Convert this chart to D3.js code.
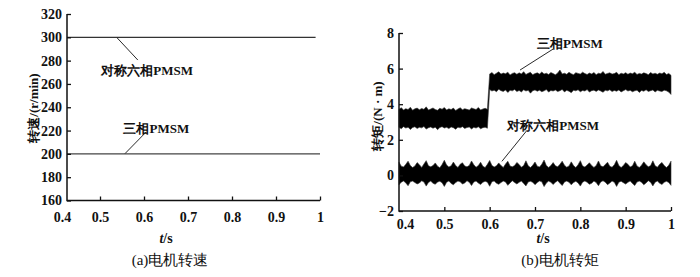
<!DOCTYPE html>
<html>
<head>
<meta charset="UTF-8">
<title>电机转速与转矩</title>
<script src="https://cdnjs.cloudflare.com/ajax/libs/d3/7.8.5/d3.min.js"></script>
<style>
body { margin: 0; background: #fff; }
</style>
</head>
<body>
<svg id="chart" width="700" height="277"></svg>
<script>
// ---- (a) speed ----
var speedTicks = [160, 180, 200, 220, 240, 260, 280, 300, 320];
var timeTicks = [0.4, 0.5, 0.6, 0.7, 0.8, 0.9, 1];
var sixSpeedT = [0.425, 0.99];
var sixSpeed = [300, 300];
var threeSpeedT = [0.425, 1.0];
var threeSpeed = [200, 200];

// ---- (b) torque: envelope of the noisy band, sampled every 5 ms from 0.4 s ----
var torqueTicks = [-2, 0, 2, 4, 6, 8];
var torqueStart = 0.4, torqueStep = 0.005;
var threeUpper = [
  3.72,3.80,3.68,3.75,3.70,3.83,3.66,3.74,3.78,3.69,
  3.76,3.71,3.85,3.67,3.73,3.79,3.70,3.66,3.77,3.72,
  3.81,3.68,3.74,3.70,3.78,3.65,3.73,3.80,3.69,3.75,
  3.71,3.67,3.79,3.74,3.70,3.82,3.68,3.73,3.77,3.71,
  5.70,5.78,5.66,5.74,5.82,5.69,5.75,5.71,5.80,5.64,
  5.73,5.77,5.68,5.76,5.70,5.83,5.67,5.74,5.79,5.66,
  5.72,5.76,5.69,5.81,5.70,5.74,5.67,5.78,5.72,5.65,
  5.75,5.92,5.70,5.74,5.68,5.79,5.71,5.66,5.77,5.73,
  5.69,5.80,5.72,5.67,5.75,5.70,5.78,5.66,5.74,5.71,
  5.84,5.68,5.73,5.76,5.69,5.72,5.79,5.66,5.74,5.70,
  5.77,5.68,5.75,5.71,5.80,5.67,5.73,5.69,5.76,5.72,
  5.66,5.78,5.70,5.74,5.68,5.75,5.71,5.79,5.67,5.73,
  5.62
];
var threeLower = [
  2.70,2.62,2.74,2.66,2.71,2.58,2.69,2.73,2.64,2.70,
  2.67,2.75,2.60,2.68,2.72,2.65,2.71,2.57,2.69,2.74,
  2.66,2.70,2.63,2.72,2.68,2.59,2.71,2.67,2.74,2.64,
  2.69,2.72,2.61,2.70,2.66,2.73,2.62,2.68,2.71,2.65,
  4.82,4.74,4.79,4.70,4.84,4.76,4.72,4.80,4.66,4.78,
  4.75,4.83,4.71,4.77,4.69,4.81,4.74,4.78,4.62,4.76,
  4.80,4.73,4.79,4.70,4.75,4.82,4.68,4.77,4.74,4.80,
  4.71,4.76,4.83,4.69,4.78,4.73,4.65,4.79,4.75,4.81,
  4.70,4.77,4.74,4.82,4.68,4.76,4.79,4.72,4.80,4.74,
  4.67,4.78,4.75,4.81,4.71,4.77,4.73,4.80,4.69,4.76,
  4.82,4.74,4.78,4.70,4.75,4.79,4.66,4.77,4.73,4.81,
  4.72,4.76,4.80,4.69,4.78,4.74,4.71,4.79,4.75,4.68,
  4.55
];
var sixUpper = [
  0.74,0.52,0.47,0.62,0.80,0.55,0.44,0.53,0.72,0.60,
  0.45,0.64,0.83,0.54,0.48,0.55,0.70,0.52,0.43,0.61,
  0.85,0.58,0.47,0.54,0.75,0.55,0.45,0.63,0.71,0.53,
  0.48,0.56,0.81,0.60,0.46,0.55,0.74,0.52,0.44,0.62,
  0.84,0.56,0.47,0.54,0.70,0.55,0.45,0.64,0.80,0.53,
  0.48,0.56,0.73,0.61,0.46,0.55,0.82,0.54,0.44,0.57,
  0.75,0.52,0.47,0.63,0.86,0.56,0.45,0.55,0.72,0.54,
  0.48,0.62,0.80,0.57,0.46,0.53,0.76,0.55,0.44,0.60,
  0.83,0.53,0.47,0.58,0.71,0.56,0.45,0.55,0.81,0.54,
  0.48,0.61,0.74,0.52,0.46,0.60,0.85,0.55,0.44,0.56,
  0.72,0.62,0.47,0.54,0.80,0.53,0.45,0.57,0.76,0.60,
  0.48,0.55,0.82,0.54,0.46,0.62,0.73,0.55,0.44,0.57,
  0.80
];
var sixLower = [
  -0.52,-0.38,-0.31,-0.42,-0.58,-0.36,-0.32,-0.40,-0.48,-0.43,
  -0.30,-0.37,-0.60,-0.40,-0.32,-0.44,-0.50,-0.37,-0.33,-0.41,
  -0.62,-0.39,-0.31,-0.45,-0.53,-0.40,-0.32,-0.36,-0.49,-0.42,
  -0.30,-0.39,-0.57,-0.37,-0.32,-0.43,-0.51,-0.39,-0.33,-0.38,
  -0.61,-0.36,-0.31,-0.44,-0.50,-0.40,-0.32,-0.37,-0.56,-0.42,
  -0.30,-0.40,-0.48,-0.39,-0.32,-0.45,-0.59,-0.37,-0.33,-0.39,
  -0.52,-0.40,-0.31,-0.36,-0.63,-0.43,-0.32,-0.39,-0.51,-0.39,
  -0.30,-0.44,-0.57,-0.37,-0.32,-0.38,-0.53,-0.40,-0.33,-0.42,
  -0.60,-0.38,-0.31,-0.39,-0.50,-0.44,-0.32,-0.40,-0.58,-0.37,
  -0.30,-0.38,-0.52,-0.43,-0.32,-0.39,-0.62,-0.38,-0.33,-0.41,
  -0.49,-0.39,-0.31,-0.45,-0.57,-0.37,-0.32,-0.38,-0.53,-0.42,
  -0.30,-0.39,-0.59,-0.38,-0.32,-0.44,-0.51,-0.39,-0.33,-0.40,
  -0.56
];

// annotation labels and pointer lines, in data units
var speedNotes = [
  {text: "对称六相PMSM", x: 0.607, y: 272, from: [0.539, 299.5], to: [0.586, 280.5]},
  {text: "三相PMSM", x: 0.628, y: 222, from: [0.605, 218.8], to: [0.557, 200.3]}
];
var torqueNotes = [
  {text: "三相PMSM", x: 0.777, y: 7.44, from: [0.740, 7.1], to: [0.667, 5.92]},
  {text: "对称六相PMSM", x: 0.740, y: 2.78, from: [0.682, 2.52], to: [0.627, 0.79]}
];

var svg = d3.select("#chart");
var fmtT = function(d) { return d === 1 ? "1" : d3.format(".1f")(d); };

function notes(g, list, x, y) {
  g.selectAll("line.ptr").data(list).enter().append("line")
    .attr("class", "ptr")
    .attr("x1", function(d) { return x(d.from[0]); }).attr("y1", function(d) { return y(d.from[1]); })
    .attr("x2", function(d) { return x(d.to[0]); }).attr("y2", function(d) { return y(d.to[1]); })
    .attr("stroke", "#111").attr("stroke-width", 0.9);
  g.selectAll("text.note").data(list).enter().append("text")
    .attr("class", "note")
    .attr("x", function(d) { return x(d.x); }).attr("y", function(d) { return y(d.y); })
    .attr("text-anchor", "middle").attr("dy", "0.35em")
    .style("font-size", "13px")
    .text(function(d) { return d.text; });
}

function styleAxis(g) {
  g.attr("font-family", null).attr("font-size", null);
  g.selectAll(".tick line").attr("stroke", "#111").attr("stroke-width", 1.3);
  g.selectAll(".tick text").style("font-size", "14px").attr("fill", "#111");
  g.select(".domain").remove();
}

// ---------- panel (a) ----------
var xL = d3.scaleLinear().domain([0.4, 1]).range([56, 320]);
var yL = d3.scaleLinear().domain([160, 320]).range([200.5, 14]);
var gA = svg.append("g");
var x0L = xL(0.425);

var line = d3.line().x(function(d) { return xL(d[0]); }).y(function(d) { return yL(d[1]); });
gA.append("path").datum(d3.zip(sixSpeedT, sixSpeed)).attr("d", line)
  .attr("fill", "none").attr("stroke", "#333").attr("stroke-width", 1.2);
gA.append("path").datum(d3.zip(threeSpeedT, threeSpeed)).attr("d", line)
  .attr("fill", "none").attr("stroke", "#444").attr("stroke-width", 1.2);

var axYL = gA.append("g").attr("transform", "translate(" + x0L + ",0)")
  .call(d3.axisLeft(yL).tickValues(speedTicks).tickSizeInner(-4).tickSizeOuter(0).tickPadding(5));
styleAxis(axYL);
var axXL = gA.append("g").attr("transform", "translate(0," + yL(160) + ")")
  .call(d3.axisBottom(xL).tickValues(timeTicks).tickFormat(fmtT).tickSizeInner(-4).tickSizeOuter(0).tickPadding(12));
styleAxis(axXL);
axXL.selectAll(".tick").filter(function(d) { return d === 0.4; }).each(function() {
  d3.select(this).select("line").remove();
  d3.select(this).select("text").attr("x", 6);
});
gA.append("path")
  .attr("d", "M" + x0L + "," + yL(320) + "V" + yL(160) + "H" + xL(1))
  .attr("fill", "none").attr("stroke", "#111").attr("stroke-width", 1.5);

notes(gA, speedNotes, xL, yL);

gA.append("text").attr("transform", "translate(33,108) rotate(-90)")
  .attr("text-anchor", "middle").attr("dy", "0.35em").style("font-size", "13px")
  .text("转速/(r/min)");
var tsL = gA.append("text").attr("x", 166).attr("y", 238).attr("text-anchor", "middle")
  .attr("dy", "0.35em").style("font-size", "14px");
tsL.append("tspan").style("font-style", "italic").text("t");
tsL.append("tspan").text("/s");
gA.append("text").attr("x", 170).attr("y", 260).attr("text-anchor", "middle")
  .attr("dy", "0.35em").style("font-size", "15px").attr("class", "cap")
  .text("(a)电机转速");

// ---------- panel (b) ----------
var xR = d3.scaleLinear().domain([0.4, 1]).range([399, 671]);
var yR = d3.scaleLinear().domain([-2, 8]).range([211, 33]);
var gB = svg.append("g");

function band(upper, lower) {
  return upper.map(function(u, i) {
    return {t: torqueStart + i * torqueStep, hi: u, lo: lower[i]};
  });
}
var area = d3.area()
  .x(function(d) { return xR(d.t); })
  .y0(function(d) { return yR(d.lo); })
  .y1(function(d) { return yR(d.hi); });

gB.selectAll("path.band").data([band(threeUpper, threeLower), band(sixUpper, sixLower)])
  .enter().append("path").attr("class", "band")
  .attr("d", area).attr("fill", "#000").attr("stroke", "#333").attr("stroke-width", 0.6);

var axYR = gB.append("g").attr("transform", "translate(" + xR(0.4) + ",0)")
  .call(d3.axisLeft(yR).tickValues(torqueTicks).tickSizeInner(-4).tickSizeOuter(0).tickPadding(5));
styleAxis(axYR);
var axXR = gB.append("g").attr("transform", "translate(0," + yR(-2) + ")")
  .call(d3.axisBottom(xR).tickValues(timeTicks).tickFormat(fmtT).tickSizeInner(-4).tickSizeOuter(0).tickPadding(8));
styleAxis(axXR);
axXR.selectAll(".tick").filter(function(d) { return d === 0.4; }).each(function() {
  d3.select(this).select("line").remove();
  d3.select(this).select("text").attr("x", 6);
});
gB.append("path")
  .attr("d", "M" + xR(0.4) + "," + yR(8) + "V" + yR(-2) + "H" + xR(1))
  .attr("fill", "none").attr("stroke", "#111").attr("stroke-width", 1.5);

notes(gB, torqueNotes, xR, yR);

gB.append("text").attr("transform", "translate(377,116) rotate(-90)")
  .attr("text-anchor", "middle").attr("dy", "0.35em").style("font-size", "13px")
  .text("转矩/(N · m)");
var tsR = gB.append("text").attr("x", 543).attr("y", 238).attr("text-anchor", "middle")
  .attr("dy", "0.35em").style("font-size", "14px");
tsR.append("tspan").style("font-style", "italic").text("t");
tsR.append("tspan").text("/s");
gB.append("text").attr("x", 560).attr("y", 260).attr("text-anchor", "middle")
  .attr("dy", "0.35em").style("font-size", "15px").attr("class", "cap")
  .text("(b)电机转矩");

// one serif family on every text, CJK falls back by itself
svg.selectAll("text")
  .attr("font-family", "Liberation Serif")
  .style("font-family", "'Liberation Serif'")
  .style("font-weight", function() { return this.getAttribute("class") === "cap" ? "normal" : "bold"; })
  .style("fill", "#111");
</script>
</body>
</html>
